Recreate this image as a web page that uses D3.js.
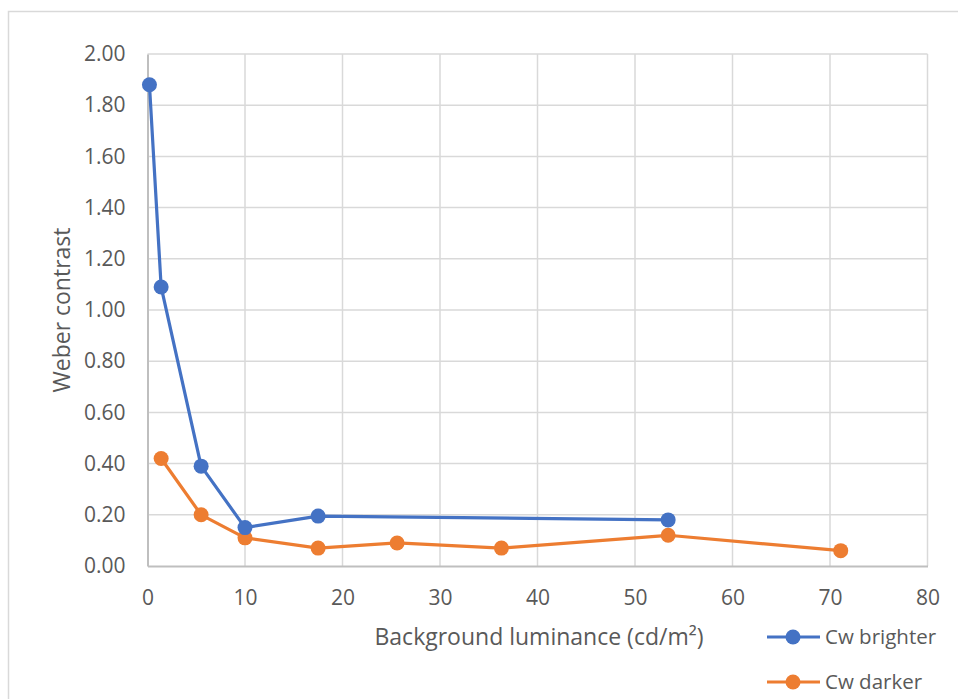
<!DOCTYPE html>
<html><head><meta charset="utf-8">
<script src="https://cdn.jsdelivr.net/npm/d3@7"></script>
<style>body{margin:0;background:#fff}svg{display:block}</style>
</head><body>
<script>
const brighterX = [0.2, 1.4, 5.5, 10.0, 17.5, 53.4];
const brighterY = [1.88, 1.09, 0.39, 0.15, 0.195, 0.18];
const darkerX = [1.4, 5.5, 10.0, 17.5, 25.6, 36.3, 53.4, 71.1];
const darkerY = [0.42, 0.20, 0.11, 0.07, 0.09, 0.07, 0.12, 0.06];
const xTicks = [0, 10, 20, 30, 40, 50, 60, 70, 80];
const yTicks = [0, 0.2, 0.4, 0.6, 0.8, 1.0, 1.2, 1.4, 1.6, 1.8, 2.0];
const seriesNames = ["Cw brighter", "Cw darker"];
const colors = ["#4472C4", "#ED7D31"];

const W = 958, H = 699;
const font = "'Open Sans', 'Noto Sans', sans-serif";
const svg = d3.select("body").append("svg").attr("width", W).attr("height", H);

svg.append("rect").attr("x", 8.5).attr("y", 11.5).attr("width", 1000).attr("height", 1000)
  .attr("fill", "#fff").attr("stroke", "#d9d9d9").attr("stroke-width", 1.5);

const x = d3.scaleLinear().domain([0, 80]).range([147.5, 927.5]);
const y = d3.scaleLinear().domain([0, 2]).range([566, 54]);

// gridlines
svg.append("g").selectAll("line.v").data(xTicks.slice(1)).join("line")
  .attr("x1", d => x(d)).attr("x2", d => x(d)).attr("y1", y(0)).attr("y2", y(2))
  .attr("stroke", "#d9d9d9").attr("stroke-width", 1.5);
svg.append("g").selectAll("line.h").data(yTicks.slice(1)).join("line")
  .attr("x1", x(0)).attr("x2", x(80)).attr("y1", d => y(d)).attr("y2", d => y(d))
  .attr("stroke", "#d9d9d9").attr("stroke-width", 1.5);

// axes
const xAxis = svg.append("g").attr("transform", `translate(0,${y(0)})`)
  .call(d3.axisBottom(x).tickValues(xTicks).tickSize(0).tickPadding(24).tickFormat(d3.format("d")));
const yAxis = svg.append("g").attr("transform", `translate(${x(0)},0)`)
  .call(d3.axisLeft(y).tickValues(yTicks).tickSize(0).tickPadding(22).tickFormat(d3.format(".2f")));
[xAxis, yAxis].forEach(a => {
  a.select(".domain").attr("stroke", "#bfbfbf").attr("stroke-width", 2);
  a.selectAll("text").attr("fill", "#595959").style("font-family", font).style("font-size", "21px");
});

// axis titles
svg.append("text").attr("x", 539).attr("y", 645).attr("text-anchor", "middle")
  .attr("fill", "#595959").style("font-family", font).style("font-size", "23px")
  .text("Background luminance (cd/m²)");
svg.append("text").attr("transform", `translate(70,${(y(0)+y(2))/2}) rotate(-90)`)
  .attr("text-anchor", "middle").attr("fill", "#595959")
  .style("font-family", font).style("font-size", "23px").text("Weber contrast");

// series
const series = [
  {name: seriesNames[0], color: colors[0], pts: brighterX.map((v, i) => [v, brighterY[i]])},
  {name: seriesNames[1], color: colors[1], pts: darkerX.map((v, i) => [v, darkerY[i]])}
];
const line = d3.line().x(d => x(d[0])).y(d => y(d[1]));
series.slice().reverse().forEach(s => {
  svg.append("path").datum(s.pts).attr("d", line).attr("fill", "none")
    .attr("stroke", s.color).attr("stroke-width", 3.2).attr("stroke-linejoin", "round");
  svg.append("g").selectAll("circle").data(s.pts).join("circle")
    .attr("cx", d => x(d[0])).attr("cy", d => y(d[1])).attr("r", 7.5).attr("fill", s.color);
});

// legend
const lg = svg.append("g");
series.forEach((s, i) => {
  const ly = 637 + i * 45;
  lg.append("line").attr("x1", 767).attr("x2", 820).attr("y1", ly).attr("y2", ly)
    .attr("stroke", s.color).attr("stroke-width", 3.2);
  lg.append("circle").attr("cx", 793).attr("cy", ly).attr("r", 7.5).attr("fill", s.color);
  lg.append("text").attr("x", 825).attr("y", ly).attr("dy", "0.35em")
    .attr("fill", "#595959").style("font-family", font).style("font-size", "20.5px").text(s.name);
});
</script>
</body></html>
